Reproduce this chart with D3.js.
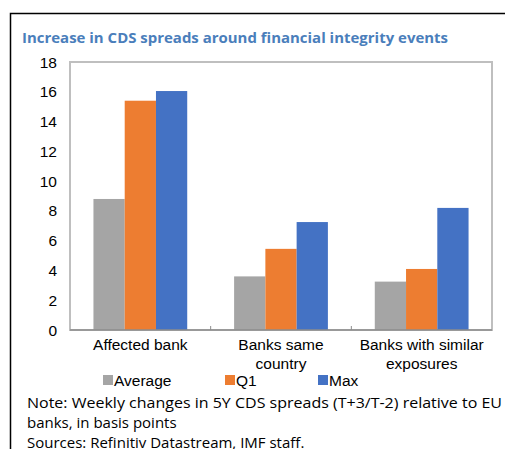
<!DOCTYPE html>
<html><head><meta charset="utf-8">
<script src="https://cdn.jsdelivr.net/npm/d3@7"></script>
<style>body{margin:0;background:#fff}svg{display:block}</style>
</head><body>
<svg id="c" width="505" height="449"></svg>
<script>
const categories = [["Affected bank"], ["Banks same", "country"], ["Banks with similar", "exposures"]];
const seriesNames = ["Average", "Q1", "Max"];
const average = [8.8, 3.6, 3.25];
const q1 = [15.4, 5.45, 4.1];
const max = [16.05, 7.25, 8.2];
const yTicks = [0, 2, 4, 6, 8, 10, 12, 14, 16, 18];
const colors = ["#a5a5a5", "#ed7d31", "#4472c4"];
const title = "Increase in CDS spreads around financial integrity events";
const noteLines = ["Note: Weekly changes in 5Y CDS spreads (T+3/T-2) relative to EU", "banks, in basis points", "Sources: Refinitiv Datastream, IMF staff."];

const svg = d3.select("#c");
const series = [average, q1, max];
const L = 70, R = 492, T = 62, B = 330;

// outer frame
svg.append("path").attr("d", `M10.5,449 L10.5,13.5 L505,13.5`).attr("fill", "none").attr("stroke", "#000").attr("stroke-width", 1.5);

svg.append("text").attr("x", 22).attr("y", 43).attr("font-family", "Open Sans").attr("font-weight", "bold")
  .attr("font-size", 14).attr("fill", "#4a7ebb").attr("textLength", 426).attr("lengthAdjust", "spacingAndGlyphs").text(title);

const x0 = d3.scaleBand().domain(d3.range(categories.length)).range([L, R]).paddingInner(0).paddingOuter(0);
const x1 = d3.scaleBand().domain(d3.range(series.length)).range([0, x0.bandwidth()]).paddingOuter(0.75).paddingInner(0);
const y = d3.scaleLinear().domain([0, 18]).range([B, T]);

// plot border
svg.append("rect").attr("x", L).attr("y", T).attr("width", R - L).attr("height", B - T)
  .attr("fill", "none").attr("stroke", "#bfbfbf").attr("stroke-width", 2);

// bars
series.forEach((s, si) => {
  svg.append("g").selectAll("rect").data(s).join("rect")
    .attr("x", (d, i) => x0(i) + x1(si))
    .attr("y", d => y(d))
    .attr("width", x1.bandwidth())
    .attr("height", d => B - y(d))
    .attr("fill", colors[si]);
});

// x axis line and ticks
svg.append("line").attr("x1", L).attr("x2", R).attr("y1", B).attr("y2", B).attr("stroke", "#8c8c8c").attr("stroke-width", 1.5);
svg.append("g").selectAll("line").data(d3.range(1, categories.length)).join("line")
  .attr("x1", i => x0(i)).attr("x2", i => x0(i)).attr("y1", B).attr("y2", B - 4).attr("stroke", "#8c8c8c");

// y tick labels
svg.append("g").selectAll("text").data(yTicks).join("text")
  .attr("x", 57).attr("y", d => y(d) + 5.5).attr("text-anchor", "end")
  .attr("font-family", "Liberation Sans").attr("font-size", 15.5).attr("fill", "#000").text(d => d);

// x labels
categories.forEach((lines, i) => {
  lines.forEach((ln, j) => {
    svg.append("text").attr("x", x0(i) + x0.bandwidth() / 2).attr("y", 350 + j * 19).attr("text-anchor", "middle")
      .attr("font-family", "Liberation Sans").attr("font-size", 15.5).attr("fill", "#000").text(ln);
  });
});

// legend
const legX = [103, 225, 318];
seriesNames.forEach((n, i) => {
  svg.append("rect").attr("x", legX[i]).attr("y", 375).attr("width", 10).attr("height", 10).attr("fill", colors[i]);
  svg.append("text").attr("x", legX[i] + 11).attr("y", 386).attr("font-family", "Liberation Sans").attr("font-size", 15.5).attr("fill", "#000").text(n);
});

// notes
noteLines.forEach((ln, i) => {
  const t = svg.append("text").attr("x", 27).attr("y", 408 + i * 20).attr("font-family", "Open Sans")
    .attr("font-size", 15).attr("fill", "#000").text(ln);
  if (i === 0) t.attr("textLength", 475).attr("lengthAdjust", "spacingAndGlyphs");
});
</script>
</body></html>
